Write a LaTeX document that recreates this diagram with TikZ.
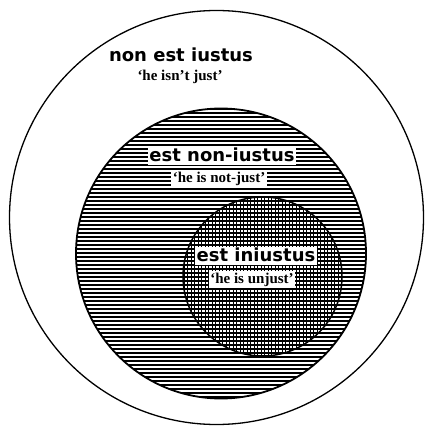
\documentclass[tikz,border=0pt]{standalone}
\usepackage{fontspec}
\newfontfamily\labfont{DejaVu Sans}
\newfontfamily\glossfont{Liberation Serif}
\tikzset{
  mainlab/.style={font=\labfont\bfseries\fontsize{18pt}{20pt}\selectfont, fill=white, inner xsep=1.5pt, inner ysep=1.5pt, text height=13pt, text depth=2pt, anchor=base},
  glosslab/.style={font=\glossfont\bfseries\fontsize{15pt}{17pt}\selectfont, fill=white, inner xsep=1.5pt, inner ysep=1pt, text height=11pt, text depth=3.5pt, anchor=base},
  hline/.style={line width=1.45pt},
  vline/.style={line width=0.9pt},
  ring/.style={draw=black}
}
\begin{document}
\begin{tikzpicture}[x=1pt,y=-1pt]
\useasboundingbox (0,0) rectangle (424,427);
\fill[white] (0,0) rectangle (424,427);
% middle circle horizontal hatching
\begin{scope}
  \clip (221,253.5) circle[radius=145pt];
  \foreach \y in {109,113,...,401} \draw[hline] (70,\y) -- (372,\y);
\end{scope}
% inner circle vertical hatching (grid)
\begin{scope}
  \clip (262.5,276.5) circle[radius=79.5pt];
  \foreach \x in {184,187.5,...,343} \draw[vline] (\x,195) -- (\x,358);
\end{scope}
% circle outlines
\draw[ring, line width=1.3pt] (216.5,217.5) circle[radius=207pt];
\draw[ring, line width=1.8pt] (221,253.5) circle[radius=145pt];
\draw[ring, line width=1.5pt] (262.5,276.5) circle[radius=79.5pt];
% labels
\node[mainlab, fill=none] (l1) at (181,62) {non est iustus};
\node[glosslab, fill=none] (g1) at (180,81) {‘he isn’t just’};
\node[mainlab] (l2) at (222,162) {est non-iustus};
\node[glosslab] (g2) at (219,183) {‘he is not-just’};
\node[mainlab] (l3) at (256,261) {est iniustus};
\node[glosslab] (g3) at (252,283) {‘he is unjust’};
\end{tikzpicture}
\end{document}
